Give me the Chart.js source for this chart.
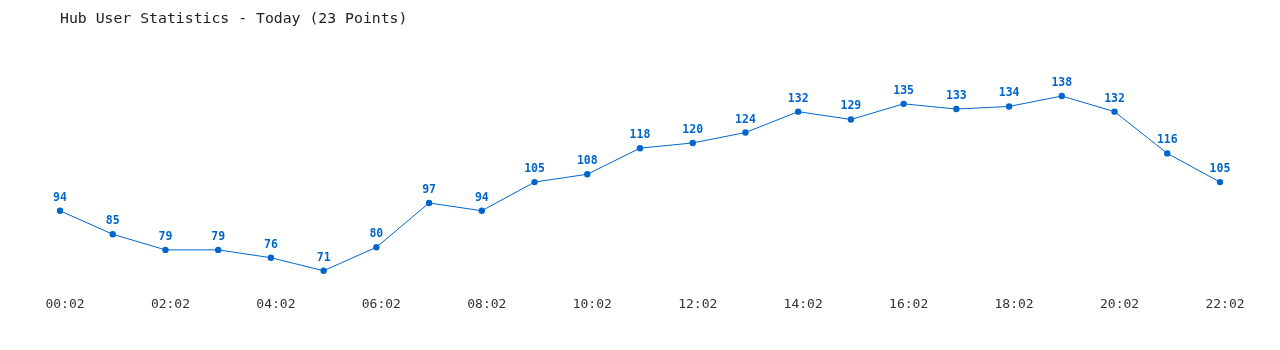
<!DOCTYPE html>
<html>
<head>
<meta charset="utf-8">
<script src="https://cdn.jsdelivr.net/npm/chart.js@4"></script>
<style>
  html, body { margin: 0; padding: 0; background: #fff; }
  #wrap { width: 1280px; height: 350px; }
</style>
</head>
<body>
<div id="wrap"><canvas id="hubChart"></canvas></div>
<script>
const hours = ["00:02", "01:02", "02:02", "03:02", "04:02", "05:02", "06:02", "07:02",
  "08:02", "09:02", "10:02", "11:02", "12:02", "13:02", "14:02", "15:02",
  "16:02", "17:02", "18:02", "19:02", "20:02", "21:02", "22:02"];
const users = [94, 85, 79, 79, 76, 71, 80, 97, 94, 105, 108, 118, 120, 124, 132, 129, 135, 133, 134, 138, 132, 116, 105];

const mono = "'DejaVu Sans Mono', 'Liberation Mono', monospace";
const blue = '#0066cc';

// values above each point
const pointLabels = {
  id: 'pointLabels',
  afterDatasetsDraw(chart) {
    const c = chart.ctx;
    const meta = chart.getDatasetMeta(0);
    c.save();
    c.font = 'bold 11.5px ' + mono;
    c.fillStyle = blue;
    c.textAlign = 'center';
    c.textBaseline = 'middle';
    meta.data.forEach((pt, i) => {
      c.fillText(String(users[i]), pt.x, pt.y - 13);
    });
    c.restore();
  }
};

const ctx = document.getElementById('hubChart').getContext('2d');
const chart = new Chart(ctx, {
  type: 'line',
  data: {
    labels: hours,
    datasets: [{
      label: 'Users',
      data: users,
      borderColor: blue,
      backgroundColor: blue,
      borderWidth: 1,
      pointRadius: 3.2,
      pointBorderWidth: 0,
      pointBackgroundColor: blue,
      tension: 0
    }]
  },
  options: {
    responsive: true,
    maintainAspectRatio: false,
    animation: false,
    layout: { padding: { left: 60, right: 60, top: 0, bottom: 28 } },
    plugins: {
      legend: { display: false },
      tooltip: { enabled: false },
      title: {
        display: true,
        text: 'Hub User Statistics - Today (23 Points)',
        align: 'start',
        color: '#222',
        font: { family: mono, size: 14.8, weight: 'normal' },
        padding: { top: 10, bottom: 50 }
      }
    },
    scales: {
      x: {
        grid: { display: false, drawTicks: false },
        border: { display: false },
        ticks: {
          autoSkip: false,
          maxRotation: 0,
          padding: 10,
          labelOffset: 5,
          color: '#333',
          font: { family: mono, size: 13 },
          callback: function (v, i) { return i % 2 === 0 ? hours[i] : ''; }
        }
      },
      y: {
        display: false,
        min: 65,
        max: 145
      }
    }
  },
  plugins: [pointLabels]
});
</script>
</body>
</html>
